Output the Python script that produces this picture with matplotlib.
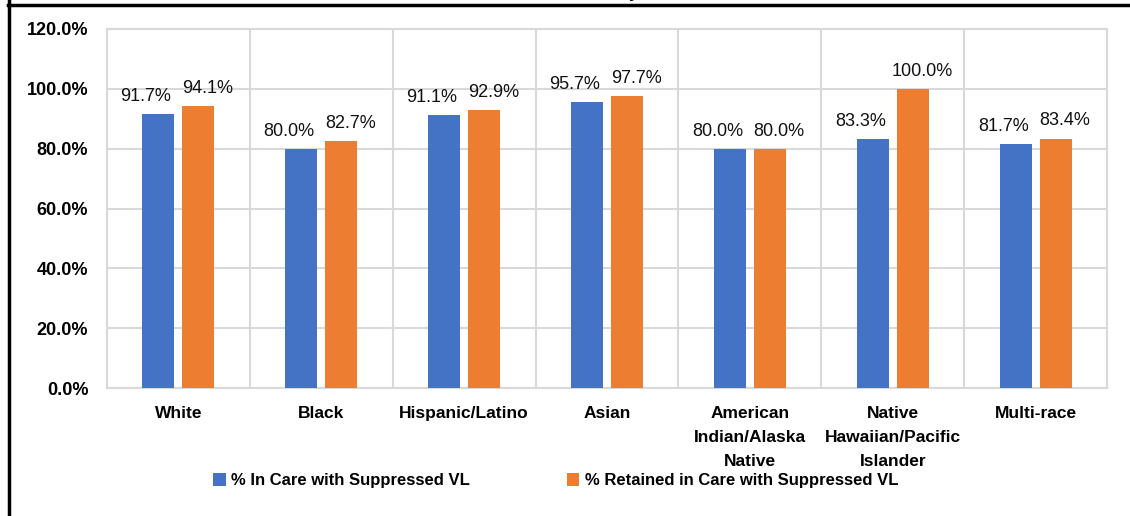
import matplotlib.pyplot as plt
from matplotlib.lines import Line2D
from matplotlib.ticker import FuncFormatter, MultipleLocator
import numpy as np

# data
categories = ['White', 'Black', 'Hispanic/Latino', 'Asian',
              'American\nIndian/Alaska\nNative', 'Native\nHawaiian/Pacific\nIslander', 'Multi-race']
in_care = [91.7, 80.0, 91.1, 95.7, 80.0, 83.3, 81.7]
retained = [94.1, 82.7, 92.9, 97.7, 80.0, 100.0, 83.4]
series_names = ['% In Care with Suppressed VL', '% Retained in Care with Suppressed VL']
colors = ['#4472C4', '#ED7D31']

plt.rcParams['font.family'] = ['Liberation Sans', 'DejaVu Sans']

fig = plt.figure(figsize=(11.3, 5.16), dpi=100)
ax = fig.add_axes([0.0947, 0.248, 0.885, 0.6958])

x = np.arange(len(categories))
w = 0.224
off = 0.14
b1 = ax.bar(x - off, in_care, w, color=colors[0], label=series_names[0], zorder=3)
b2 = ax.bar(x + off, retained, w, color=colors[1], label=series_names[1], zorder=3)

# labels nudged outwards a little, like in the original
for bars, vals, dx in ((b1, in_care, -9), (b2, retained, 6.5)):
    for r, v in zip(bars, vals):
        ax.annotate('{:.1f}%'.format(v), (r.get_x() + r.get_width() / 2, r.get_height()),
                    xytext=(dx, 6.5), textcoords='offset points', ha='center', va='bottom',
                    fontsize=13, color='#111111')

ax.set_xlim(-0.5, len(categories) - 0.5)
ax.set_ylim(0, 120)
ax.yaxis.set_major_locator(MultipleLocator(20))
ax.yaxis.set_major_formatter(FuncFormatter(lambda v, p: '{:.1f}%'.format(v)))
ax.set_xticks(x)
ax.set_xticklabels(categories, fontweight='bold', fontsize=12.5, linespacing=1.75)
for t in ax.get_yticklabels():
    t.set_fontweight('bold'); t.set_fontsize(13)
ax.set_xticks(np.arange(len(categories) + 1) - 0.5, minor=True)
ax.tick_params(axis='both', which='both', length=0)
ax.tick_params(axis='y', pad=13.5)
ax.tick_params(axis='x', pad=13)
ax.grid(axis='y', which='major', color='#d9d9d9', lw=1.5, zorder=0)
ax.grid(axis='x', which='minor', color='#d9d9d9', lw=1.5, zorder=0)
ax.grid(axis='x', which='major', visible=False)
for s in ax.spines.values():
    s.set_color('#d9d9d9'); s.set_linewidth(1.5)

leg = fig.legend(handles=[b1, b2], loc='center left', bbox_to_anchor=(213 / 1130, 0.068), ncol=2, frameon=False,
                 borderpad=0, borderaxespad=0,
                 handlelength=0.75, handleheight=0.75, handletextpad=0.35, columnspacing=5.8,
                 prop={'weight': 'bold', 'size': 12})

# outer frame fragments and clipped title
fig.add_artist(Line2D([8.5 / 1130, 8.5 / 1130], [0, 1], transform=fig.transFigure, color='black', lw=2.5))
fig.add_artist(Line2D([0.0075, 1], [1 - 4.5 / 516, 1 - 4.5 / 516], transform=fig.transFigure, color='black', lw=2.5))
fig.text(636 / 1130, 1 + 3 / 516, 'y,', ha='center', va='baseline', fontsize=13, fontweight='bold')

fig.savefig('out.png', dpi=100)
